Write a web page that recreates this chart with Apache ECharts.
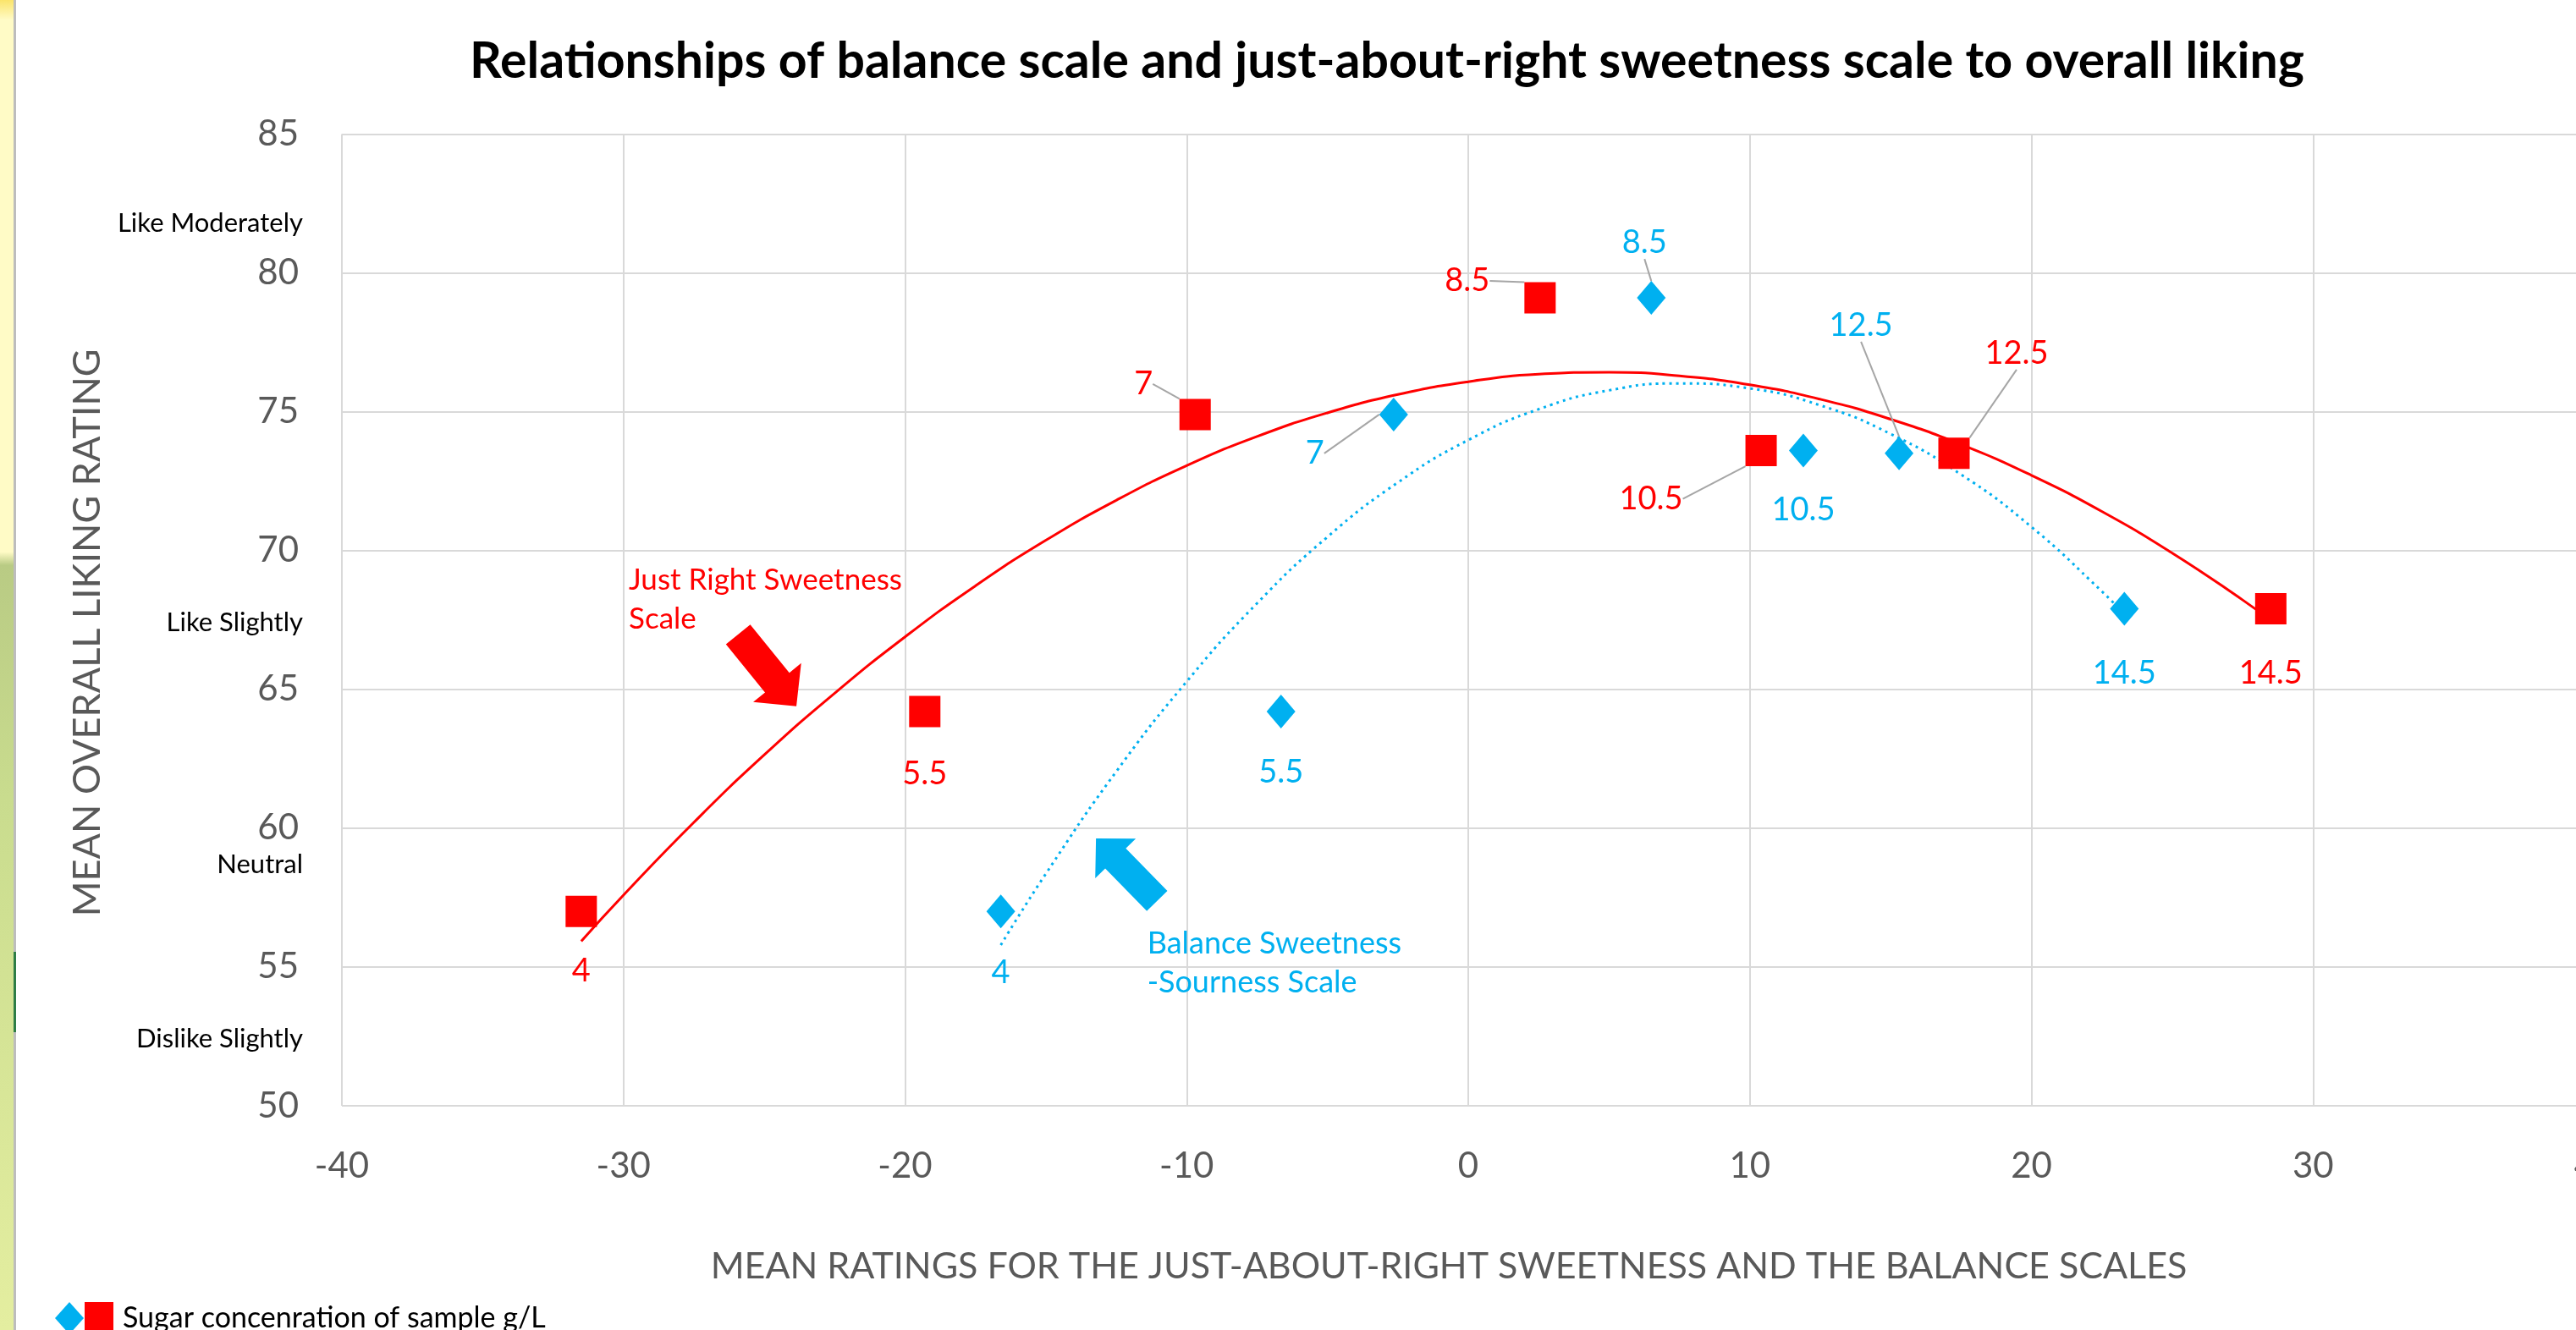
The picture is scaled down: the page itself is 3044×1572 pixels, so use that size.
<!DOCTYPE html>
<html>
<head>
<meta charset="utf-8">
<script src="https://cdn.jsdelivr.net/npm/echarts@6/dist/echarts.min.js"></script>
<style>
  html, body { margin: 0; padding: 0; background: #fff; }
  #main { width: 3044px; height: 1572px; }
</style>
</head>
<body>
<div id="main"></div>
<script>
// sugar concentration of each sample, g/L (used as point labels)
const sugarLabels = ['4', '5.5', '7', '8.5', '10.5', '12.5', '14.5'];
// mean overall liking of each sample
const meanLiking = [57.0, 64.2, 74.9, 79.1, 73.6, 73.5, 67.9];
// mean rating on the just-about-right sweetness scale
const jarSweetness = [-31.5, -19.3, -9.7, 2.55, 10.4, 17.25, 28.5];
// mean rating on the balance sweetness-sourness scale
const balanceSweetness = [-16.6, -6.65, -2.65, 6.5, 11.9, 15.3, 23.3];

// polynomial trend lines
const jarTrendX = [-31.5, -30, -27.5, -25, -22.5, -20, -17.5, -15, -12.5, -10, -7.5, -5, -2.5, 0,
  2.5, 5, 7.5, 10, 12.5, 15, 17.5, 20, 22.5, 25, 27.5, 28.5];
const jarTrendY = [55.93, 57.59, 60.21, 62.64, 64.86, 66.89, 68.73, 70.37, 71.81, 73.06, 74.11, 74.96, 75.62, 76.08,
  76.35, 76.42, 76.29, 75.97, 75.45, 74.73, 73.82, 72.71, 71.41, 69.91, 68.22, 67.48];
const balTrendX = [-16.6, -15, -12.5, -10, -7.5, -5, -2.5, 0, 2.5, 5, 7.5, 10, 12.5, 15, 17.5, 20, 22.5, 23.3];
const balTrendY = [55.79, 58.36, 62.04, 65.28, 68.10, 70.49, 72.45, 73.98, 75.09, 75.77, 76.02, 75.84, 75.23, 74.20,
  72.74, 70.85, 68.53, 67.70];

// hedonic scale words beside the y axis
const hedonicTerms = ['Like Moderately', 'Like Slightly', 'Neutral', 'Dislike Slightly'];
const hedonicAt = [81.8, 67.4, 58.7, 52.4];

const legendText = 'Sugar concenration of sample g/L';

// where each point label sits, in pixels from its point
const jarLabelShift = [[0, 70], [0, 74], [-61, -36], [-86, -20], [-130, 57], [74, -118], [0, 76]];
const balLabelShift = [[0, 72], [0, 72], [-93, 46], [-8, -65], [0, 70], [-45, -151], [0, 76]];
const jarLeader = [false, false, true, true, true, true, false];
const balLeader = [false, false, true, true, false, true, false];

const RED = '#FF0000';
const BLUE = '#00B0F0';
const GREY = '#595959';
const FONT = 'Lato';

function pairs(xs, ys) {
  return xs.map((x, i) => [x, ys[i]]);
}

function points(xs, leader) {
  return xs.map((x, i) => ({
    value: [x, meanLiking[i], sugarLabels[i]],
    labelLine: { show: leader[i] }
  }));
}

function scatterLabel(color) {
  return {
    show: true,
    position: 'inside',
    formatter: p => p.value[2],
    color: color,
    fontFamily: FONT,
    fontSize: 38
  };
}

const chart = echarts.init(document.getElementById('main'));

const option = {
  backgroundColor: '#ffffff',
  animation: false,
  title: {
    text: 'Relationships of balance scale and just-about-right sweetness scale to overall liking',
    left: 1639,
    top: 43,
    textAlign: 'center',
    padding: 0,
    textStyle: { fontFamily: FONT, fontWeight: 'bold', fontSize: 59, lineHeight: 59, color: '#000' }
  },
  grid: { left: 404, top: 158.5, right: -22, bottom: 265, outerBoundsMode: 'none' },
  legend: {
    left: 65,
    top: 1539,
    padding: 0,
    itemGap: 1,
    itemWidth: 34,
    itemHeight: 38,
    selectedMode: false,
    data: [
      { name: 'Balance Sweetness-Sourness Scale', icon: 'diamond' },
      { name: 'Just Right Sweetness Scale', icon: 'rect' }
    ],
    formatter: n => (n === 'Just Right Sweetness Scale' ? '{t|' + legendText + '}' : ''),
    textStyle: {
      fontFamily: FONT, fontSize: 34, color: '#000',
      rich: { t: { fontFamily: FONT, fontSize: 34, color: '#000', padding: [0, 0, 0, 6] } }
    }
  },
  xAxis: {
    type: 'value',
    min: -40,
    max: 40,
    interval: 10,
    name: 'MEAN RATINGS FOR THE JUST-ABOUT-RIGHT SWEETNESS AND THE BALANCE SCALES',
    nameLocation: 'middle',
    nameGap: 169,
    nameTextStyle: { fontFamily: FONT, fontSize: 43, color: GREY, padding: [0, 46, 0, 0] },
    axisLine: { show: false },
    axisTick: { show: false },
    axisLabel: { margin: 50, fontFamily: FONT, fontSize: 42, color: GREY },
    splitLine: { show: true, lineStyle: { color: '#D9D9D9', width: 2 } }
  },
  yAxis: {
    type: 'value',
    min: 50,
    max: 85,
    interval: 5,
    name: 'MEAN OVERALL LIKING RATING',
    nameLocation: 'middle',
    nameGap: 278,
    nameTextStyle: { fontFamily: FONT, fontSize: 45, color: GREY, padding: [0, 30, 0, 0] },
    axisLine: { show: false },
    axisTick: { show: false },
    axisLabel: { margin: 51, fontFamily: FONT, fontSize: 42, color: GREY },
    splitLine: { show: true, lineStyle: { color: '#D9D9D9', width: 2 } }
  },
  series: [
    {
      name: 'JAR trend',
      type: 'line',
      data: pairs(jarTrendX, jarTrendY),
      smooth: true,
      showSymbol: false,
      silent: true,
      z: 2,
      lineStyle: { color: RED, width: 3 }
    },
    {
      name: 'Balance trend',
      type: 'line',
      data: pairs(balTrendX, balTrendY),
      smooth: true,
      showSymbol: false,
      silent: true,
      z: 2,
      lineStyle: { color: BLUE, width: 3, type: [3, 5] }
    },
    {
      name: 'Balance Sweetness-Sourness Scale',
      type: 'scatter',
      symbol: 'diamond',
      symbolSize: [34, 40],
      z: 3,
      itemStyle: { color: BLUE, opacity: 1 },
      data: points(balanceSweetness, balLeader),
      label: scatterLabel(BLUE),
      labelLine: { show: false, lineStyle: { color: '#A6A6A6', width: 2 } },
      labelLayout: p => ({ dx: balLabelShift[p.dataIndex][0], dy: balLabelShift[p.dataIndex][1] })
    },
    {
      name: 'Just Right Sweetness Scale',
      type: 'scatter',
      symbol: 'rect',
      symbolSize: 37,
      z: 3,
      itemStyle: { color: RED, opacity: 1 },
      data: points(jarSweetness, jarLeader),
      label: scatterLabel(RED),
      labelLine: { show: false, lineStyle: { color: '#A6A6A6', width: 2 } },
      labelLayout: p => ({ dx: jarLabelShift[p.dataIndex][0], dy: jarLabelShift[p.dataIndex][1] })
    }
  ]
};

chart.setOption(option);

// annotations placed in data units, converted to pixels through the grid
function px(x, y) {
  return chart.convertToPixel({ gridIndex: 0 }, [x, y]);
}

function blockArrow(tail, tip, shaftW, headW, headL) {
  const dx = tip[0] - tail[0], dy = tip[1] - tail[1];
  const len = Math.hypot(dx, dy);
  const ux = dx / len, uy = dy / len, nx = -uy, ny = ux;
  const bx = tip[0] - ux * headL, by = tip[1] - uy * headL;
  const at = (x, y, s) => [x + nx * s, y + ny * s];
  return [
    at(tail[0], tail[1], shaftW / 2), at(bx, by, shaftW / 2), at(bx, by, headW / 2),
    tip,
    at(bx, by, -headW / 2), at(bx, by, -shaftW / 2), at(tail[0], tail[1], -shaftW / 2)
  ];
}

const axisLeft = px(-40, 50)[0];
const graphics = [];

// slide background strip on the far left
graphics.push({
  type: 'rect', silent: true, z: -10,
  shape: { x: 0, y: 0, width: 16, height: 1572 },
  style: {
    fill: new echarts.graphic.LinearGradient(0, 0, 0, 1, [
      { offset: 0, color: '#FBE46A' },
      { offset: 0.015, color: '#FFFBC6' },
      { offset: 0.415, color: '#FFFBC6' },
      { offset: 0.425, color: '#B9CB84' },
      { offset: 0.6, color: '#C9DC8E' },
      { offset: 1, color: '#E4EEA0' }
    ])
  }
});
graphics.push({ type: 'rect', silent: true, z: -10, shape: { x: 16, y: 0, width: 3, height: 1572 }, style: { fill: '#BDBDBD' } });
graphics.push({ type: 'rect', silent: true, z: -9, shape: { x: 16, y: 1125, width: 3, height: 95 }, style: { fill: '#2E7D46' } });

hedonicTerms.forEach((t, i) => {
  graphics.push({
    type: 'text', silent: true,
    style: {
      text: t, x: axisLeft - 46, y: px(-40, hedonicAt[i])[1],
      fill: '#000', font: '31px ' + FONT,
      align: 'right', verticalAlign: 'middle', textAlign: 'right', textVerticalAlign: 'middle'
    }
  });
});

const redTextAt = px(-29.81, 68.93);
graphics.push({
  type: 'text', silent: true,
  style: {
    text: 'Just Right Sweetness\nScale', x: redTextAt[0], y: redTextAt[1] - 23,
    fill: RED, font: '35px ' + FONT, lineHeight: 46,
    align: 'left', verticalAlign: 'top', textAlign: 'left', textVerticalAlign: 'top'
  }
});
const blueTextAt = px(-11.40, 55.83);
graphics.push({
  type: 'text', silent: true,
  style: {
    text: 'Balance Sweetness\n-Sourness Scale', x: blueTextAt[0], y: blueTextAt[1] - 23,
    fill: BLUE, font: '36px ' + FONT, lineHeight: 46,
    align: 'left', verticalAlign: 'top', textAlign: 'left', textVerticalAlign: 'top'
  }
});

graphics.push({
  type: 'polygon', silent: true, z: 5,
  shape: { points: blockArrow(px(-25.93, 66.98), px(-23.86, 64.39), 37, 73, 36) },
  style: { fill: RED }
});
graphics.push({
  type: 'polygon', silent: true, z: 5,
  shape: { points: blockArrow(px(-11.05, 57.38), px(-13.22, 59.63), 34, 67, 33) },
  style: { fill: BLUE }
});

chart.setOption({ graphic: { elements: graphics } });
</script>
</body>
</html>
